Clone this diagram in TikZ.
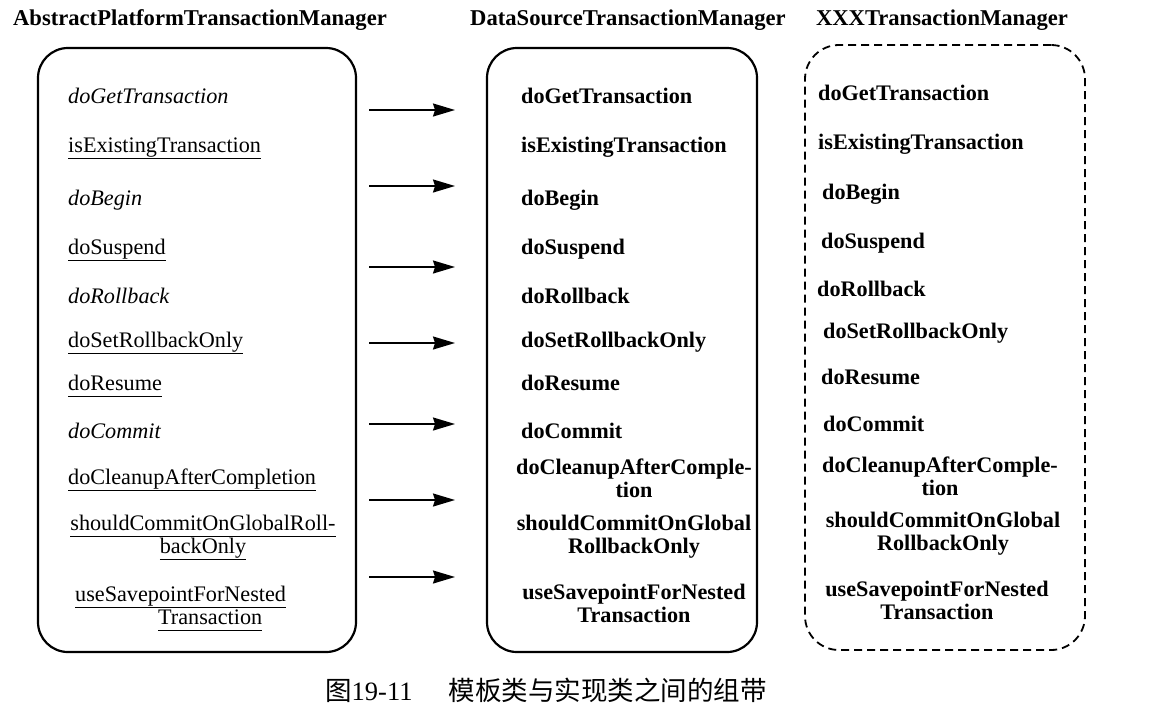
\documentclass[tikz,border=0pt]{standalone}
\usepackage{fontspec}
\setmainfont{Liberation Serif}
\newfontfamily\cjk{Noto Sans CJK SC}
\usetikzlibrary{arrows.meta}
\newcommand\myul[1]{\setbox0=\hbox{#1}\rlap{\rule[-7pt]{\wd0}{1.5pt}}\box0}
\begin{document}
\begin{tikzpicture}[x=1pt,y=-1pt,
  box/.style={draw, line width=2.2pt, rounded corners=30pt, inner sep=0pt},
  dbox/.style={draw, line width=1.8pt, rounded corners=34pt, dash pattern=on 8pt off 5pt, inner sep=0pt},
  txt/.style={inner sep=0pt, font=\fontsize{22.2}{23}\selectfont},
  it/.style={txt, anchor=base west, font=\fontsize{22.2}{23}\selectfont\itshape},
  rm/.style={txt, anchor=base west},
  bf/.style={txt, anchor=base west, font=\fontsize{22.2}{23}\selectfont\bfseries},
  bfc/.style={txt, anchor=base, align=center, font=\fontsize{22.2}{23}\selectfont\bfseries},
  arr/.style={line width=1.8pt, -{Stealth[length=22pt,width=13pt,inset=2pt]}},
  title/.style={txt, anchor=base, font=\fontsize{22.6}{24}\selectfont\bfseries}]
\useasboundingbox (0,0) rectangle (1151,705);
% titles
\node[title] (t1) at (200,25) {AbstractPlatformTransactionManager};
\node[title] (t2) at (628,25) {DataSourceTransactionManager};
\node[title] (t3) at (942,25) {XXXTransactionManager};
% boxes
\node[box, minimum width=318pt, minimum height=604pt] (abs) at (197,350) {};
\node[box, minimum width=270pt, minimum height=604pt] (ds) at (622,350) {};
\node[dbox, minimum width=280pt, minimum height=605pt] (xxx) at (945,347.5) {};
% left column
\node[it] (l1) at (68,103) {doGetTransaction};
\node[rm] (l2) at (68,152) {\myul{isExistingTransaction}};
\node[it] (l3) at (68,205) {doBegin};
\node[rm] (l4) at (68,254) {\myul{doSuspend}};
\node[it] (l5) at (68,303) {doRollback};
\node[rm] (l6) at (68,347) {\myul{doSetRollbackOnly}};
\node[rm] (l7) at (68,390) {\myul{doResume}};
\node[it] (l8) at (68,438) {doCommit};
\node[rm] (l9) at (68,484) {\myul{doCleanupAfterCompletion}};
\node[txt, anchor=base, align=center] (l10) at (203,553) {\myul{shouldCommitOnGlobalRoll-}\\\myul{backOnly}};
\node[txt, anchor=base west, align=left] (l11) at (75,624) {\myul{useSavepointForNested}\\\hspace*{83pt}\myul{Transaction}};
% middle column
\node[bf] (m1) at (521,103) {doGetTransaction};
\node[bf] (m2) at (521,152) {isExistingTransaction};
\node[bf] (m3) at (521,205) {doBegin};
\node[bf] (m4) at (521,254) {doSuspend};
\node[bf] (m5) at (521,303) {doRollback};
\node[bf] (m6) at (521,347) {doSetRollbackOnly};
\node[bf] (m7) at (521,390) {doResume};
\node[bf] (m8) at (521,438) {doCommit};
\node[bfc] (m9) at (634,497) {doCleanupAfterComple-\\tion};
\node[bfc] (m10) at (634,553) {shouldCommitOnGlobal\\RollbackOnly};
\node[bfc] (m11) at (634,622) {useSavepointForNested\\Transaction};
% right column
\node[bf] (r1) at (818,100) {doGetTransaction};
\node[bf] (r2) at (818,149) {isExistingTransaction};
\node[bf] (r3) at (822,199) {doBegin};
\node[bf] (r4) at (821,248) {doSuspend};
\node[bf] (r5) at (817,296) {doRollback};
\node[bf] (r6) at (823,338) {doSetRollbackOnly};
\node[bf] (r7) at (821,384) {doResume};
\node[bf] (r8) at (823,431) {doCommit};
\node[bfc] (r9) at (940,495) {doCleanupAfterComple-\\tion};
\node[bfc] (r10) at (943,550) {shouldCommitOnGlobal\\RollbackOnly};
\node[bfc] (r11) at (937,619) {useSavepointForNested\\Transaction};
% arrows
\foreach \i/\y in {1/110,2/186,3/267,4/343,5/424,6/500,7/577}{
  \coordinate (as\i) at (369,\y);
  \coordinate (ae\i) at (455,\y);
  \draw[arr] (as\i) -- (ae\i);
}
% caption
\node[txt, anchor=base west, font=\fontsize{26.5}{28}\selectfont] (cap) at (325,700) {{\cjk 图}19-11\hspace{36pt}{\cjk 模板类与实现类之间的组带}};
\end{tikzpicture}
\end{document}
